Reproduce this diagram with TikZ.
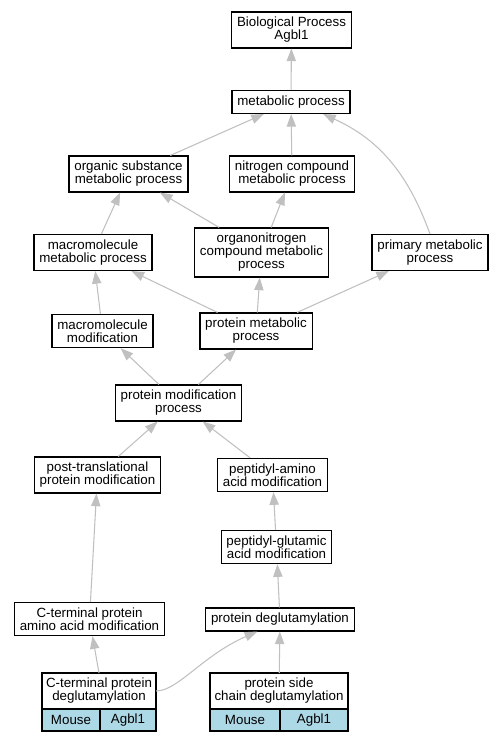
\documentclass[tikz,border=0pt]{standalone}
\usepackage{fontspec}
\setmainfont{Liberation Sans}
\usetikzlibrary{arrows.meta}
\usetikzlibrary{positioning}
\definecolor{edgegray}{HTML}{C0C0C0}
\definecolor{cellblue}{HTML}{ADD8E6}
\tikzset{
  term/.style = {draw=black, line width=0.9pt, fill=white, align=center,
    inner xsep=4pt, inner ysep=3.9pt, font=\fontsize{10}{9.75}\selectfont},
  gterm/.style = {term, outer sep=0pt, inner xsep=2pt},% annotated term, title part
  gcell/.style = {term, fill=cellblue, minimum height=16.5pt, inner ysep=2pt, outer sep=0pt},% gene / species cell
  isa/.style = {draw=edgegray, line width=0.8pt,
    -{Triangle[length=9.5pt,width=7pt]}},
}

\begin{document}
\begin{tikzpicture}[x=0.75pt,y=-0.75pt]
                    \useasboundingbox (0,0) rectangle (501,741);

                    \node[term] (bp)   at (291.5,30)  {Biological Process\\Agbl1};
                    \node[term] (met)  at (291,102)   {metabolic process};
                    \node[term] (osm)  at (128.5,174) {organic substance\\metabolic process};
                    \node[term] (ncm)  at (292,174)   {nitrogen compound\\metabolic process};
                    \node[term] (mmp)  at (93,252.5)  {macromolecule\\metabolic process};
                    \node[term] (onc)  at (261.5,252.5) {organonitrogen\\compound metabolic\\process};
                    \node[term] (pmp)  at (430,252.5) {primary metabolic\\process};
                    \node[term] (mmod) at (102.5,331) {macromolecule\\modification};
                    \node[term] (prm)  at (256,331)   {protein metabolic\\process};
                    \node[term] (pmod) at (178.5,403) {protein modification\\process};
                    \node[term] (ptm)  at (97.5,475)  {post-translational\\protein modification};
                    \node[term] (pam)  at (272.5,475) {peptidyl-amino\\acid modification};
                    \node[term] (pgm)  at (276.5,547) {peptidyl-glutamic\\acid modification};
                    \node[term] (ctam) at (89.5,619)  {C-terminal protein\\amino acid modification};
                    \node[term] (pdg)  at (280,619.5) {protein deglutamylation};

                    % annotated terms
                    \node[gterm, minimum width=85.5pt] (ctd) at (99,691) {C-terminal protein\\deglutamylation};
                    \node[gcell, anchor=north west, minimum width=43.5pt] (ctdsp) at (ctd.south west) {Mouse};
                    \node[gcell, anchor=north east, minimum width=42pt] (ctdgn) at (ctd.south east) {Agbl1};
                    \node[gterm, minimum width=103.5pt] (scd) at (279,691) {protein side\\chain deglutamylation};
                    \node[gcell, anchor=north west, minimum width=52.5pt] (scdsp) at (scd.south west) {Mouse};
                    \node[gcell, anchor=north east, minimum width=51pt] (scdgn) at (scd.south east) {Agbl1};

                    \path[isa] (met) -- (bp);
                    \path[isa] (osm) -- (met);
                    \path[isa] (ncm) -- (met);
                    \path[isa] (pmp.north) .. controls +(-20,-55) and +(60,27) .. ([xshift=24pt]met.south);
                    \path[isa] (mmp) -- (osm);
                    \path[isa] (onc) -- (osm);
                    \path[isa] (onc) -- (ncm);
                    \path[isa] (mmod) -- (mmp);
                    \path[isa] (prm) -- (mmp);
                    \path[isa] (prm) -- (onc);
                    \path[isa] (prm) -- (pmp);
                    \path[isa] (pmod) -- (mmod);
                    \path[isa] (pmod) -- (prm);
                    \path[isa] (ptm) -- (pmod);
                    \path[isa] (pam) -- (pmod);
                    \path[isa] (pgm) -- (pam);
                    \path[isa] (ctam) -- (ptm);
                    \path[isa] (pdg) -- (pgm);
                    \path[isa] (ctd.north) -- (ctam);
                    \path[isa] (ctd.east) .. controls +(22,0) and +(-55,24) .. ([xshift=-17pt]pdg.south);
                    \path[isa] (scd) -- (pdg);
                \end{tikzpicture}
\end{document}
